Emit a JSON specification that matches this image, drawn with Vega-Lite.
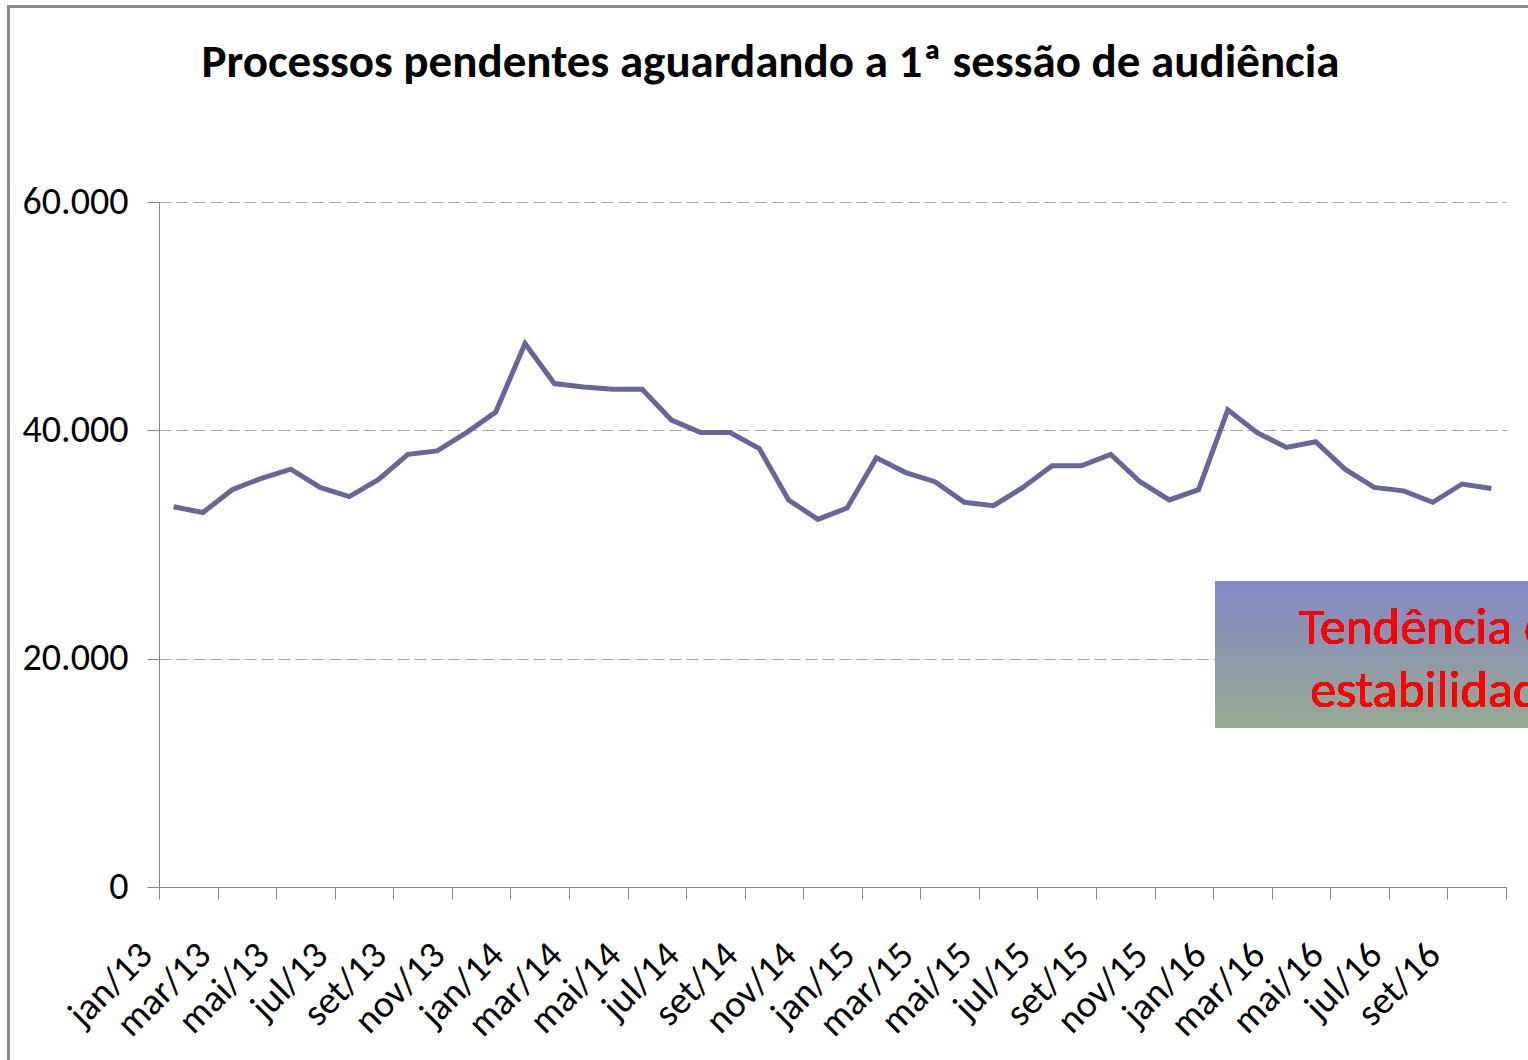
{
  "$schema": "https://vega.github.io/schema/vega-lite/v6.json",
  "width": 1347,
  "height": 685,
  "autosize": {"type": "none"},
  "padding": {"left": 159, "top": 202, "right": 22, "bottom": 173},
  "background": "white",
  "config": {
    "view": {"stroke": null},
    "font": "Calibri, Carlito, Lato, sans-serif"
  },
  "title": {
    "text": "Processos pendentes aguardando a 1ª sessão de audiência",
    "anchor": "middle",
    "frame": "group",
    "dx": -62,
    "offset": -118,
    "baseline": "alphabetic",
    "font": "Calibri, Carlito, Lato, sans-serif",
    "fontSize": 47,
    "fontWeight": "bold",
    "color": "#000000"
  },
  "data": {
    "values": [
      {"i": 0, "mes": "jan/13", "valor": 33300},
      {"i": 1, "mes": "fev/13", "valor": 32800},
      {"i": 2, "mes": "mar/13", "valor": 34800},
      {"i": 3, "mes": "abr/13", "valor": 35800},
      {"i": 4, "mes": "mai/13", "valor": 36600},
      {"i": 5, "mes": "jun/13", "valor": 35000},
      {"i": 6, "mes": "jul/13", "valor": 34200},
      {"i": 7, "mes": "ago/13", "valor": 35700},
      {"i": 8, "mes": "set/13", "valor": 37900},
      {"i": 9, "mes": "out/13", "valor": 38200},
      {"i": 10, "mes": "nov/13", "valor": 39800},
      {"i": 11, "mes": "dez/13", "valor": 41600},
      {"i": 12, "mes": "jan/14", "valor": 47600},
      {"i": 13, "mes": "fev/14", "valor": 44100},
      {"i": 14, "mes": "mar/14", "valor": 43800},
      {"i": 15, "mes": "abr/14", "valor": 43600},
      {"i": 16, "mes": "mai/14", "valor": 43600},
      {"i": 17, "mes": "jun/14", "valor": 40900},
      {"i": 18, "mes": "jul/14", "valor": 39800},
      {"i": 19, "mes": "ago/14", "valor": 39800},
      {"i": 20, "mes": "set/14", "valor": 38400},
      {"i": 21, "mes": "out/14", "valor": 33900},
      {"i": 22, "mes": "nov/14", "valor": 32200},
      {"i": 23, "mes": "dez/14", "valor": 33200},
      {"i": 24, "mes": "jan/15", "valor": 37600},
      {"i": 25, "mes": "fev/15", "valor": 36300},
      {"i": 26, "mes": "mar/15", "valor": 35500},
      {"i": 27, "mes": "abr/15", "valor": 33700},
      {"i": 28, "mes": "mai/15", "valor": 33400},
      {"i": 29, "mes": "jun/15", "valor": 35000},
      {"i": 30, "mes": "jul/15", "valor": 36900},
      {"i": 31, "mes": "ago/15", "valor": 36900},
      {"i": 32, "mes": "set/15", "valor": 37900},
      {"i": 33, "mes": "out/15", "valor": 35500},
      {"i": 34, "mes": "nov/15", "valor": 33900},
      {"i": 35, "mes": "dez/15", "valor": 34800},
      {"i": 36, "mes": "jan/16", "valor": 41800},
      {"i": 37, "mes": "fev/16", "valor": 39800},
      {"i": 38, "mes": "mar/16", "valor": 38500},
      {"i": 39, "mes": "abr/16", "valor": 39000},
      {"i": 40, "mes": "mai/16", "valor": 36600},
      {"i": 41, "mes": "jun/16", "valor": 35000},
      {"i": 42, "mes": "jul/16", "valor": 34700},
      {"i": 43, "mes": "ago/16", "valor": 33700},
      {"i": 44, "mes": "set/16", "valor": 35300},
      {"i": 45, "mes": "out/16", "valor": 34900}
    ]
  },
  "layer": [
    {
      "mark": {"type": "rect", "fill": null, "stroke": "#8a8a8a", "strokeWidth": 2, "clip": false},
      "encoding": {
        "x": {"datum": -5.64, "type": "quantitative"},
        "x2": {"datum": 70},
        "y": {"datum": 77100, "type": "quantitative"},
        "y2": {"datum": -40000}
      }
    },
    {
      "mark": {"type": "line", "color": "#666699", "strokeWidth": 5, "strokeJoin": "miter", "strokeCap": "butt"},
      "encoding": {
        "x": {
          "field": "i",
          "type": "quantitative",
          "scale": {"domain": [-0.5, 45.5], "nice": false, "zero": false},
          "axis": {
            "title": null,
            "values": [-0.5, 1.5, 3.5, 5.5, 7.5, 9.5, 11.5, 13.5, 15.5, 17.5, 19.5, 21.5, 23.5, 25.5, 27.5, 29.5, 31.5, 33.5, 35.5, 37.5, 39.5, 41.5, 43.5, 45.5],
            "labelExpr": "datum.value > 45 ? '' : ['jan','fev','mar','abr','mai','jun','jul','ago','set','out','nov','dez'][(datum.value + 0.5) % 12] + '/' + (13 + floor((datum.value + 0.5) / 12))",
            "labelAngle": -45,
            "labelAlign": "right",
            "labelBaseline": "middle",
            "labelPadding": 50,
            "labelOffset": -13,
            "labelFontSize": 38,
            "labelColor": "#000000",
            "labelOverlap": false,
            "labelFlush": false,
            "labelBound": false,
            "grid": false,
            "ticks": true,
            "tickSize": 12,
            "tickColor": "#868686",
            "tickWidth": 1,
            "domainColor": "#868686",
            "domainWidth": 1
          }
        },
        "y": {
          "field": "valor",
          "type": "quantitative",
          "scale": {"domain": [0, 60000], "nice": false},
          "axis": {
            "title": null,
            "values": [0, 20000, 40000, 60000],
            "labelExpr": "replace(format(datum.value, ','), ',', '.')",
            "labelFontSize": 38,
            "labelColor": "#000000",
            "labelPadding": 19,
            "tickSize": 12,
            "tickColor": "#868686",
            "tickWidth": 1,
            "domainColor": "#868686",
            "domainWidth": 1,
            "grid": true,
            "gridColor": "#a6a6a6",
            "gridWidth": 1,
            "gridDash": [12, 5]
          }
        }
      }
    },
    {
      "mark": {
        "type": "rect",
        "clip": false,
        "fill": {
          "gradient": "linear",
          "x1": 0, "y1": 0, "x2": 0, "y2": 1,
          "stops": [
            {"offset": 0, "color": "#8487c6"},
            {"offset": 1, "color": "#97aa92"}
          ]
        }
      },
      "encoding": {
        "x": {"datum": 35.57, "type": "quantitative"},
        "x2": {"datum": 50.6},
        "y": {"datum": 26800, "type": "quantitative"},
        "y2": {"datum": 13930}
      }
    },
    {
      "mark": {
        "type": "text",
        "clip": false,
        "text": ["Tendência de", "estabilidade"],
        "align": "center",
        "baseline": "alphabetic",
        "lineHeight": 63,
        "font": "Calibri, Carlito, Lato, sans-serif",
        "fontSize": 52,
        "color": "#ff0000"
      },
      "encoding": {
        "x": {"datum": 43.18, "type": "quantitative"},
        "y": {"datum": 21280, "type": "quantitative"}
      }
    }
  ]
}
